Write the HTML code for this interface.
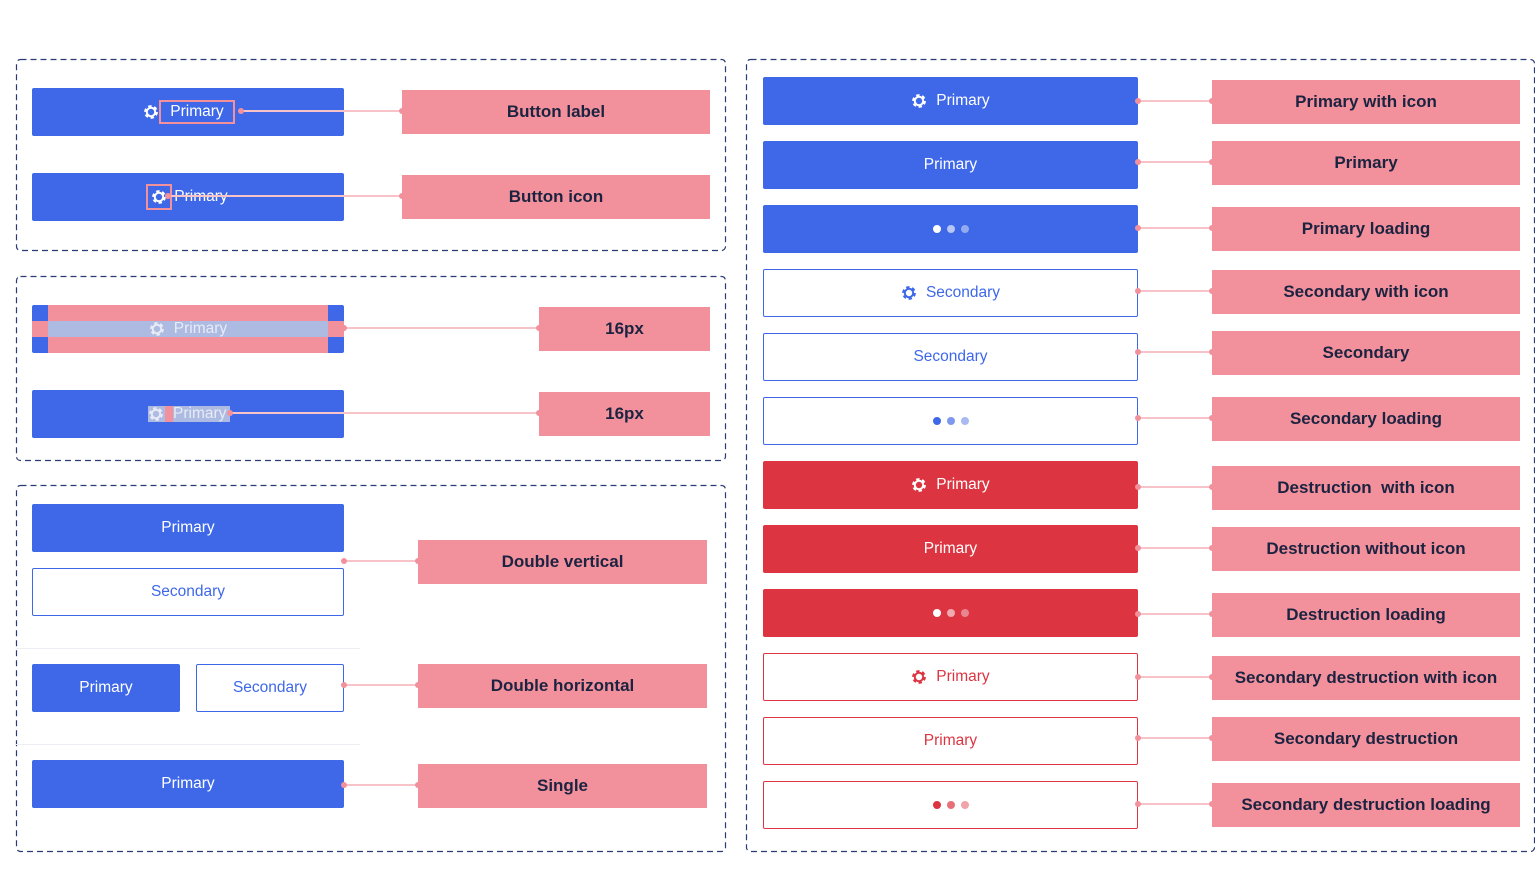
<!DOCTYPE html>
<html><head><meta charset="utf-8"><style>
body{margin:0;width:1535px;height:874px;background:#fff;position:relative;overflow:hidden;font-family:"Liberation Sans",sans-serif}
div,span{box-sizing:border-box}
.b{position:absolute;height:48px;border-radius:2px;display:flex;align-items:center;justify-content:center;font-size:15.5px;gap:9px}
.p{background:#3e68e8;color:#fff}
.s{background:#fff;border:1.3px solid #3e68e8;color:#3e68e8}
.r{background:#dc3541;color:#fff}
.sr{background:#fff;border:1.3px solid #dc3541;color:#dc3541}
.l{position:absolute;height:44px;background:#f2919c;color:#1c2340;font-size:17px;font-weight:bold;display:flex;align-items:center;justify-content:center}
.c{position:absolute;height:2px;background:#f7c3c9}
.c:before,.c:after{content:"";position:absolute;top:-2px;width:6px;height:6px;border-radius:50%;background:#f2919c}
.c:before{left:-3px}.c:after{right:-3px}
.sep{position:absolute;height:1px;background:#eceef4;left:16px;width:344px}
.d{display:inline-block;width:8px;height:8px;border-radius:50%;margin:0 3px}
svg{display:block}
</style></head><body>
<svg width="0" height="0" style="position:absolute"><defs><g id="g"><circle cx="8" cy="8" r="5.3" fill="none" stroke="currentColor" stroke-width="3.2" stroke-dasharray="3.1 2.45"/><circle cx="8" cy="8" r="4.2" fill="none" stroke="currentColor" stroke-width="2"/></g></defs></svg>

<svg width="1535" height="874" style="position:absolute;left:0;top:0" fill="none" stroke="#2b3a78" stroke-width="1.2" stroke-dasharray="6 4">
<rect x="16.5" y="59.5" width="709" height="191" rx="4"/>
<rect x="16.5" y="276.5" width="709" height="184" rx="4"/>
<rect x="16.5" y="485.5" width="709" height="366" rx="4"/>
<rect x="746.5" y="59.5" width="788" height="792" rx="4"/>
</svg>

<!-- box 1 -->
<div class="b p" style="left:32px;top:88px;width:312px;gap:2px"><svg width="16" height="16" style="color:#fff"><use href="#g"/></svg><span style="outline:2px solid #f2919c;padding:1px 9px">Primary</span></div>
<div class="c" style="left:241px;top:110px;width:161px"></div>
<div class="l" style="left:402px;top:90px;width:308px">Button label</div>
<div class="b p" style="left:32px;top:173px;width:312px;gap:4px"><span style="outline:2px solid #f2919c;padding:3px"><svg width="16" height="16" style="color:#fff"><use href="#g"/></svg></span><span>Primary</span></div>
<div class="c" style="left:168px;top:195px;width:234px"></div>
<div class="l" style="left:402px;top:175px;width:308px">Button icon</div>

<!-- box 2 -->
<div class="b p" style="left:32px;top:305px;width:312px"></div>
<div style="position:absolute;left:48px;top:305px;width:280px;height:48px;background:#f2919c"></div>
<div style="position:absolute;left:32px;top:321px;width:312px;height:16px;background:#f2919c"></div>
<div class="b" style="left:48px;top:321px;width:280px;height:16px;background:#adbbe3;color:#e8ebf5"><svg width="16" height="16" style="color:#e8ebf5"><use href="#g"/></svg><span>Primary</span></div>
<div class="c" style="left:344px;top:327px;width:195px"></div>
<div class="l" style="left:539px;top:307px;width:171px">16px</div>
<div class="b p" style="left:32px;top:390px;width:312px"></div>
<div style="position:absolute;left:148px;top:406px;width:82px;height:16px;background:#adbbe3"></div>
<div style="position:absolute;left:165px;top:406px;width:8px;height:16px;background:#f2919c"></div>
<div style="position:absolute;left:148px;top:404px;height:20px;display:flex;align-items:center;gap:9px;color:#e8ebf5;font-size:15.5px"><svg width="16" height="16" style="color:#e8ebf5"><use href="#g"/></svg><span>Primary</span></div>
<div class="c" style="left:230px;top:412px;width:309px"></div>
<div class="l" style="left:539px;top:392px;width:171px">16px</div>

<!-- box 3 -->
<div class="b p" style="left:32px;top:504px;width:312px">Primary</div>
<div class="b s" style="left:32px;top:568px;width:312px">Secondary</div>
<div class="c" style="left:344px;top:560px;width:74px"></div>
<div class="l" style="left:418px;top:540px;width:289px">Double vertical</div>
<div class="sep" style="top:648px"></div>
<div class="b p" style="left:32px;top:664px;width:148px">Primary</div>
<div class="b s" style="left:196px;top:664px;width:148px">Secondary</div>
<div class="c" style="left:344px;top:684px;width:74px"></div>
<div class="l" style="left:418px;top:664px;width:289px">Double horizontal</div>
<div class="sep" style="top:744px"></div>
<div class="b p" style="left:32px;top:760px;width:312px">Primary</div>
<div class="c" style="left:344px;top:784px;width:74px"></div>
<div class="l" style="left:418px;top:764px;width:289px">Single</div>

<!-- right -->
<div class="b p" style="left:763px;top:77px;width:375px"><svg width="16" height="16" style="color:#fff"><use href="#g"/></svg>Primary</div>
<div class="c" style="left:1138px;top:100px;width:74px"></div>
<div class="l" style="left:1212px;top:80px;width:308px">Primary with icon</div>

<div class="b p" style="left:763px;top:141px;width:375px">Primary</div>
<div class="c" style="left:1138px;top:161px;width:74px"></div>
<div class="l" style="left:1212px;top:141px;width:308px">Primary</div>

<div class="b p" style="left:763px;top:205px;width:375px"><span><i class="d" style="background:#fff"></i><i class="d" style="background:#b7c6f6"></i><i class="d" style="background:#94aaf0"></i></span></div>
<div class="c" style="left:1138px;top:227px;width:74px"></div>
<div class="l" style="left:1212px;top:207px;width:308px">Primary loading</div>

<div class="b s" style="left:763px;top:269px;width:375px"><svg width="16" height="16" style="color:#3e68e8"><use href="#g"/></svg>Secondary</div>
<div class="c" style="left:1138px;top:290px;width:74px"></div>
<div class="l" style="left:1212px;top:270px;width:308px">Secondary with icon</div>

<div class="b s" style="left:763px;top:333px;width:375px">Secondary</div>
<div class="c" style="left:1138px;top:351px;width:74px"></div>
<div class="l" style="left:1212px;top:331px;width:308px">Secondary</div>

<div class="b s" style="left:763px;top:397px;width:375px"><span><i class="d" style="background:#3e68e8"></i><i class="d" style="background:#7d98ee"></i><i class="d" style="background:#a9baf3"></i></span></div>
<div class="c" style="left:1138px;top:417px;width:74px"></div>
<div class="l" style="left:1212px;top:397px;width:308px">Secondary loading</div>

<div class="b r" style="left:763px;top:461px;width:375px"><svg width="16" height="16" style="color:#fff"><use href="#g"/></svg>Primary</div>
<div class="c" style="left:1138px;top:486px;width:74px"></div>
<div class="l" style="left:1212px;top:466px;width:308px">Destruction&nbsp; with icon</div>

<div class="b r" style="left:763px;top:525px;width:375px">Primary</div>
<div class="c" style="left:1138px;top:547px;width:74px"></div>
<div class="l" style="left:1212px;top:527px;width:308px">Destruction without icon</div>

<div class="b r" style="left:763px;top:589px;width:375px"><span><i class="d" style="background:#fff"></i><i class="d" style="background:#f0aab0"></i><i class="d" style="background:#e88690"></i></span></div>
<div class="c" style="left:1138px;top:613px;width:74px"></div>
<div class="l" style="left:1212px;top:593px;width:308px">Destruction loading</div>

<div class="b sr" style="left:763px;top:653px;width:375px"><svg width="16" height="16" style="color:#dc3541"><use href="#g"/></svg>Primary</div>
<div class="c" style="left:1138px;top:676px;width:74px"></div>
<div class="l" style="left:1212px;top:656px;width:308px">Secondary destruction with icon</div>

<div class="b sr" style="left:763px;top:717px;width:375px">Primary</div>
<div class="c" style="left:1138px;top:737px;width:74px"></div>
<div class="l" style="left:1212px;top:717px;width:308px">Secondary destruction</div>

<div class="b sr" style="left:763px;top:781px;width:375px"><span><i class="d" style="background:#dc3541"></i><i class="d" style="background:#e77079"></i><i class="d" style="background:#f0a3a9"></i></span></div>
<div class="c" style="left:1138px;top:803px;width:74px"></div>
<div class="l" style="left:1212px;top:783px;width:308px">Secondary destruction loading</div>
</body></html>
